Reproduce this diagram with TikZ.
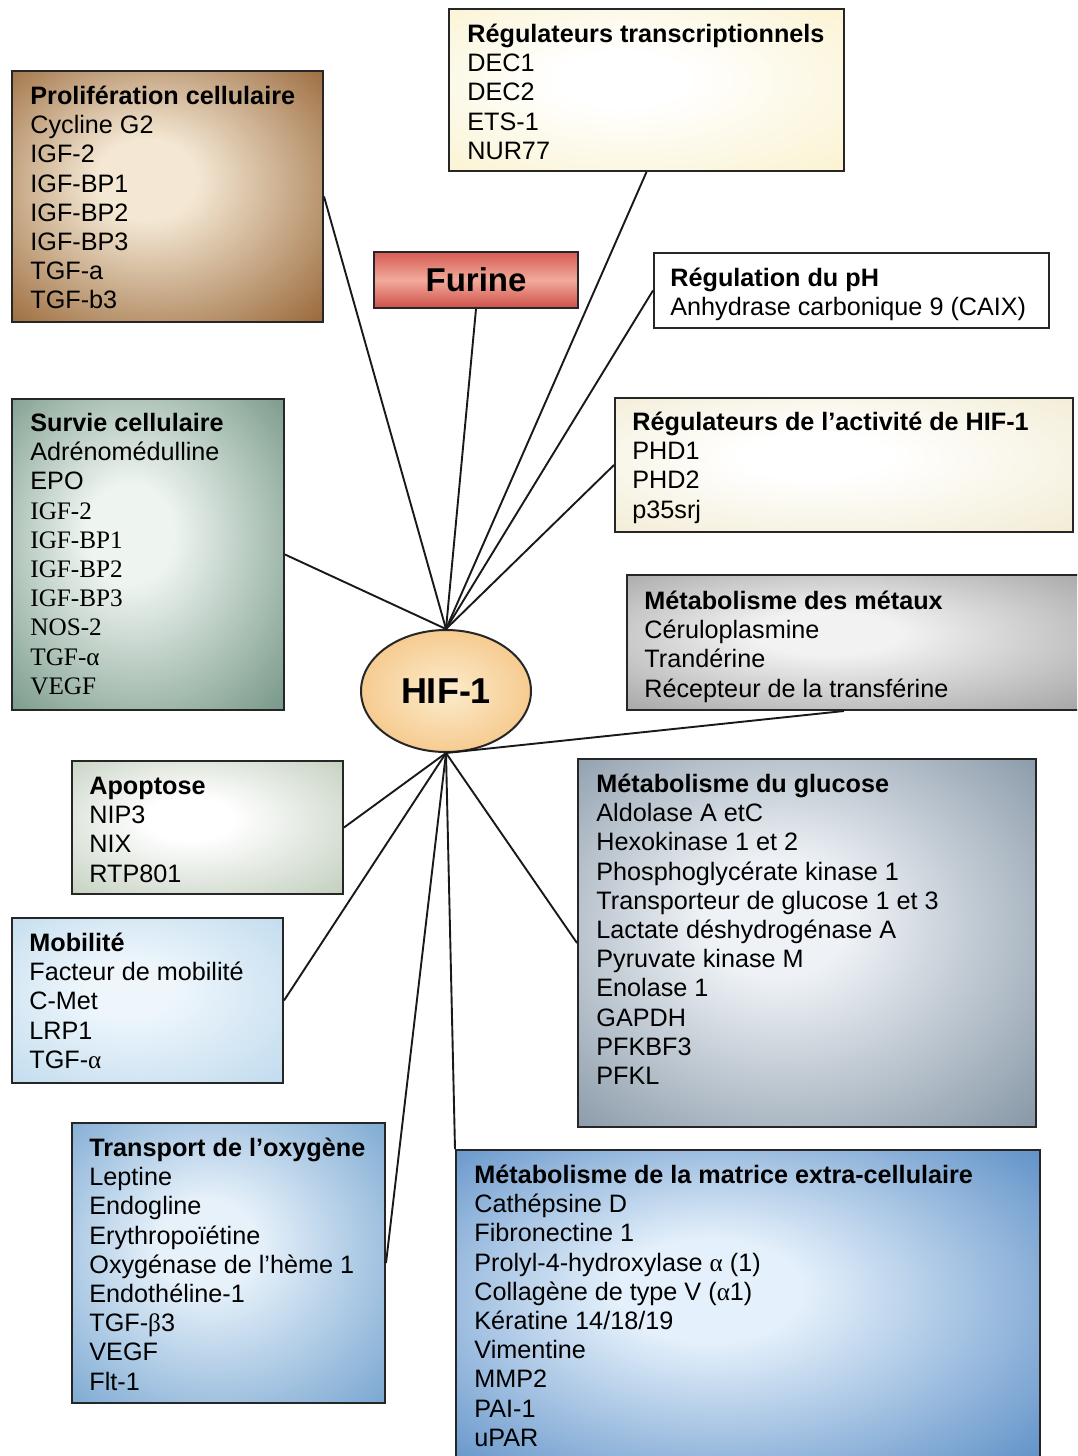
\documentclass[tikz,border=0pt]{standalone}
\usepackage{fontspec}
\setmainfont{Liberation Sans}
\newfontfamily\serifrm{Liberation Serif}
\usetikzlibrary{shapes.geometric,fit,calc}
\definecolor{bxin}{HTML}{FFFFFF}
\definecolor{bxout}{HTML}{AAAAAA}
\definecolor{prolifIn}{HTML}{F4E8D4}\definecolor{prolifOut}{HTML}{9C6C3E}
\definecolor{regIn}{HTML}{FFFFFF}\definecolor{regOut}{HTML}{FBF3D2}
\definecolor{actIn}{HTML}{FFFFFF}\definecolor{actOut}{HTML}{F3EDD6}
\definecolor{survIn}{HTML}{EEF5F0}\definecolor{survOut}{HTML}{7A9A8B}
\definecolor{metIn}{HTML}{F2F2F2}\definecolor{metOut}{HTML}{A6A6A6}
\definecolor{apoIn}{HTML}{FFFFFF}\definecolor{apoOut}{HTML}{C4D0C0}
\definecolor{mobIn}{HTML}{EEF6FC}\definecolor{mobOut}{HTML}{C2DCEE}
\definecolor{glucIn}{HTML}{EEF2F6}\definecolor{glucOut}{HTML}{8A9AA9}
\definecolor{trIn}{HTML}{E6F1FA}\definecolor{trOut}{HTML}{7DA9D2}
\definecolor{maIn}{HTML}{E4F0FB}\definecolor{maOut}{HTML}{5E90C7}
\definecolor{furTop}{HTML}{D65C54}\definecolor{furMid}{HTML}{F2AA9B}\definecolor{furBot}{HTML}{CE5048}
\definecolor{hifIn}{HTML}{FCECCC}\definecolor{hifOut}{HTML}{F6CB90}
\pgfdeclareradialshading[bxin,bxout]{glow}{\pgfpoint{-4bp}{4bp}}{color(0bp)=(bxin); color(8bp)=(bxin); color(36bp)=(bxout); color(50bp)=(bxout)}
\tikzset{
  box/.style 2 args={draw=black!85, line width=1pt, inner sep=0pt,
    /utils/exec={\colorlet{bxin}{#1}\colorlet{bxout}{#2}}, shade, shading=glow},
  txt/.style={anchor=north west, inner sep=0pt, align=left,
    font=\fontsize{12.6}{14.6}\selectfont},
  link/.style={line width=0.95pt, black!90},
}
\newcommand{\fl}{\rule{0pt}{12pt}}
\begin{document}
\begin{tikzpicture}[x=0.5pt,y=-0.5pt]
\useasboundingbox (0,0) rectangle (1077,1456);
\fill[white] (0,0) rectangle (1077,1456);
\clip (0,0) rectangle (1077,1456);

% boxes
\node[box={prolifIn}{prolifOut}, fit={(12,71) (323,322)}] (prolif) {};
\node[box={regIn}{regOut}, fit={(449,9) (844,171)}] (regtr) {};
\node[draw=black!85, line width=1pt, inner sep=0pt, top color=furTop, bottom color=furBot, middle color=furMid, fit={(374,252) (578,308)}] (furine) {};
\node[draw=black!85, line width=1pt, inner sep=0pt, fill=white, fit={(654,253) (1049,328)}] (ph) {};
\node[box={actIn}{actOut}, fit={(615,398) (1073,532)}] (activ) {};
\node[box={survIn}{survOut}, fit={(12,399) (284,710)}] (survie) {};
\node[box={metIn}{metOut}, fit={(627,575) (1090,710)}] (metaux) {};
\node[box={apoIn}{apoOut}, fit={(72,761) (343,894)}] (apop) {};
\node[box={mobIn}{mobOut}, fit={(12,918) (283,1083)}] (mobil) {};
\node[box={glucIn}{glucOut}, fit={(578,759) (1036,1127)}] (gluc) {};
\node[box={trIn}{trOut}, fit={(72,1123) (385,1403)}] (transp) {};
\node[box={maIn}{maOut}, fit={(456,1150) (1040,1475)}] (matr) {};

% centre
\node[ellipse, draw=black!85, line width=1pt, inner sep=0pt,
  minimum width=85pt, minimum height=61pt,
  inner color=hifIn, outer color=hifOut,
  font=\bfseries\fontsize{18}{20}\selectfont] (hif) at (446,691) {HIF-1};

% connectors
\draw[link] (hif.north) -- (prolif.east);
\draw[link] (hif.north) -- (regtr.south);
\draw[link] (hif.north) -- (furine.south);
\draw[link] (hif.north) -- (ph.west);
\draw[link] (hif.north) -- (activ.west);
\draw[link] (hif.north) -- (survie.east);
\draw[link] (hif.south) -- ([xshift=109pt]metaux.south west);
\draw[link] (hif.south) -- (apop.east);
\draw[link] (hif.south) -- (mobil.east);
\draw[link] (hif.south) -- (gluc.west);
\draw[link] (hif.south) -- (transp.east);
\draw[link] (hif.south) -- (matr.north west);

% texts
\node[inner sep=0pt, font=\bfseries\fontsize{16.5}{18}\selectfont] (tfurine) at (furine.center) {Furine};
\node[txt] (tprolif) at (30,80) {\fl\textbf{Prolifération cellulaire}\\Cycline G2\\IGF-2\\IGF-BP1\\IGF-BP2\\IGF-BP3\\TGF-a\\TGF-b3};
\node[txt] (tregtr) at (467,18) {\fl\textbf{Régulateurs transcriptionnels}\\DEC1\\DEC2\\ETS-1\\NUR77};
\node[txt] (tph) at (670,262) {\fl\textbf{Régulation du pH}\\Anhydrase carbonique 9 (CAIX)};
\node[txt] (tactiv) at (632,406) {\fl\textbf{Régulateurs de l’activité de HIF-1}\\PHD1\\PHD2\\p35srj};
\node[txt] (tsurvie) at (30,407) {\fl\textbf{Survie cellulaire}\\Adrénomédulline\\EPO\\{\serifrm IGF-2}\\{\serifrm IGF-BP1}\\{\serifrm IGF-BP2}\\{\serifrm IGF-BP3}\\{\serifrm NOS-2}\\{\serifrm TGF-α}\\{\serifrm VEGF}};
\node[txt] (tmetaux) at (644,585) {\fl\textbf{Métabolisme des métaux}\\Céruloplasmine\\Trandérine\\Récepteur de la transférine};
\node[txt] (tapop) at (89,770) {\fl\textbf{Apoptose}\\NIP3\\NIX\\RTP801};
\node[txt] (tmobil) at (29,927) {\fl\textbf{Mobilité}\\Facteur de mobilité\\C-Met\\LRP1\\TGF-{\serifrm α}};
\node[txt] (tgluc) at (596,768) {\fl\textbf{Métabolisme du glucose}\\Aldolase A etC\\Hexokinase 1 et 2\\Phosphoglycérate kinase 1\\Transporteur de glucose 1 et 3\\Lactate déshydrogénase A\\Pyruvate kinase M\\Enolase 1\\GAPDH\\PFKBF3\\PFKL};
\node[txt] (ttransp) at (89,1132) {\fl\textbf{Transport de l’oxygène}\\Leptine\\Endogline\\Erythropoïétine\\Oxygénase de l’hème 1\\Endothéline-1\\TGF-{\serifrm β}3\\VEGF\\Flt-1};
\node[txt] (tmatr) at (474,1159) {\fl\textbf{Métabolisme de la matrice extra-cellulaire}\\Cathépsine D\\Fibronectine 1\\Prolyl-4-hydroxylase {\serifrm α} (1)\\Collagène de type V ({\serifrm α}1)\\Kératine 14/18/19\\Vimentine\\MMP2\\PAI-1\\uPAR};
\end{tikzpicture}
\end{document}
